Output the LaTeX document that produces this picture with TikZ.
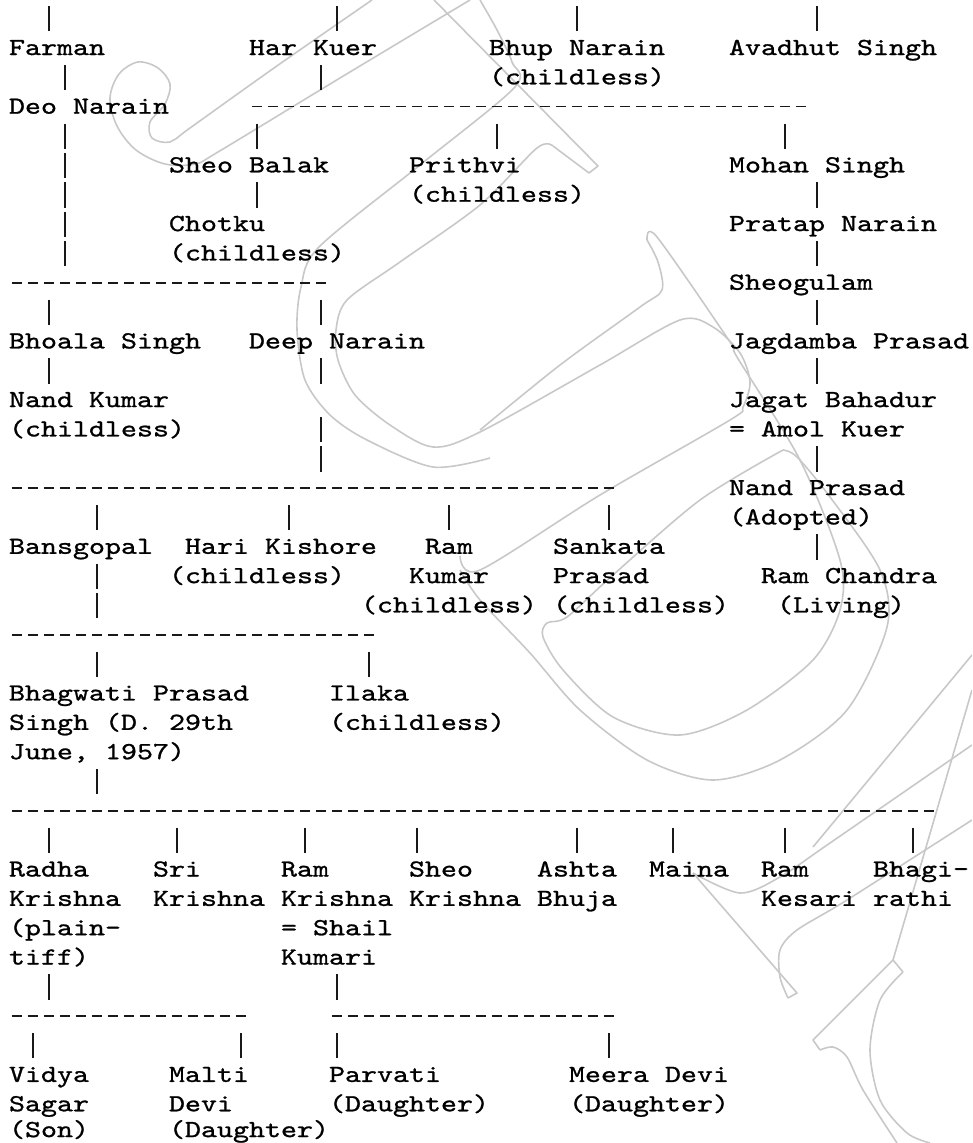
\documentclass[tikz,border=0pt]{standalone}
\usepackage{fontspec}
\usetikzlibrary{calc}
\newfontfamily\tw{lmmono10-regular.otf}[FakeStretch=1.2439,FakeBold=1]
\definecolor{wmgray}{RGB}{200,200,200}
\tikzset{
  nm/.style={anchor=base west, inner sep=0pt, outer sep=0pt, font=\tw\fontsize{24.5pt}{29.34pt}\selectfont, text=black},
  vb/.style={line width=1.4pt, black!90, dash pattern=on 25.3pt off 4.04pt},
  hd/.style={line width=1.6pt, black!90, dash pattern=on 10.5pt off 5.5pt},
  wm/.style={line width=1.6pt, wmgray, line join=round}
}
\newcommand\vbar[3]{%
  \coordinate (vt-#1-#2) at ($(#1+0.5,#2)+(0,19.5pt)$);
  \coordinate (vb-#1-#3) at ($(#1+0.5,#3)+(0,-5.8pt)$);
  \draw[vb] (vt-#1-#2) -- (vb-#1-#3);}
\newcommand\hdash[3]{%
  \coordinate (hl-#1-#2) at ($(#2,#1)+(2.75pt,7pt)$);
  \coordinate (hr-#1-#3) at ($(#3+1,#1)+(-2.75pt,7pt)$);
  \draw[hd] (hl-#1-#2) -- (hr-#1-#3);}
\begin{document}
\begin{tikzpicture}[x=16pt,y=-29.34pt]
\useasboundingbox (-9pt,25.66pt) rectangle (963pt,-1117.34pt);
% watermark
\begin{scope}[x=1pt,y=-1pt,shift={(-9pt,25.66pt)}]
\clip (0,0) rectangle (972,1143);
\draw[wm] plot[smooth,tension=0.55] coordinates {(372,0) (274,68) (190,128) (170,142) (152,138) (150,122) (165,104) (170,84) (158,68) (138,62) (119,74) (110,98) (117,126) (136,150) (165,164) (195,164) (218,152) (340,78) (470,0)};
\draw[wm] (434,0) -- (598,166) -- (589,173) -- (553,146);
\draw[wm] plot[smooth,tension=0.5] coordinates {(553,146) (537,148) (480,205) (400,262) (347,300) (336,330) (338,360) (355,395) (390,425) (433,447) (480,432) (600,365) (680,320) (713,327) (740,353) (750,382) (743,407) (730,420) (600,495) (480,570) (460,556)};
\draw[wm] plot[smooth,tension=0.5] coordinates {(480,0) (497,30) (512,62) (515,87) (420,165) (319,247) (301,287) (297,330) (305,380) (330,415) (367,440) (433,467) (490,458)};
\draw[wm] plot[smooth,tension=0.5] coordinates {(647,240) (657,237) (730,342) (737,357) (800,460) (840,560) (840,610) (813,660) (747,710) (680,735) (613,717) (563,670) (543,637) (547,623) (567,617) (613,575) (700,500) (783,450)};
\draw[wm] plot[smooth,tension=0.5] coordinates {(783,450) (797,457) (830,497) (880,570) (887,627) (847,710) (780,760) (713,780) (647,760) (580,710) (530,653) (480,600) (460,570)};
\draw[wm] plot[smooth,tension=0.5] coordinates {(647,240) (658,262) (662,290) (640,307) (560,365) (480,430)};
\draw[wm] plot[smooth,tension=0.5] coordinates {(693,873) (740,893) (780,877) (830,843) (972,745)};
\draw[wm] (693,873) -- (797,993) -- (788,998);
\draw[wm] plot[smooth,tension=0.5] coordinates {(788,998) (780,977) (780,950) (797,930) (847,900) (972,820)};
\draw[wm] (972,690) -- (893,960) -- (903,972);
\draw[wm] (893,960) -- (813,1040) -- (820,1050);
\draw[wm] plot[smooth,tension=0.5] coordinates {(820,1050) (833,1047) (847,1057) (863,1090) (897,1143)};
\draw[wm] plot[smooth,tension=0.5] coordinates {(903,972) (880,1000) (870,1050) (880,1100) (907,1133) (930,1143)};
\draw[wm] (972,655) -- (813,847);
\end{scope}
% people
\node[nm] (farman) at (0,1) {Farman};
\node[nm] (harkuer) at (15,1) {Har Kuer};
\node[nm] (bhup) at (30,1) {Bhup Narain};
\node[nm] (avadhut) at (45,1) {Avadhut Singh};
\node[nm] (bhupc) at (30,2) {(childless)};
\node[nm] (deo) at (0,3) {Deo Narain};
\node[nm] (sheobalak) at (10,5) {Sheo Balak};
\node[nm] (prithvi) at (25,5) {Prithvi};
\node[nm] (mohan) at (45,5) {Mohan Singh};
\node[nm] (prithvic) at (25,6) {(childless)};
\node[nm] (chotku) at (10,7) {Chotku};
\node[nm] (pratap) at (45,7) {Pratap Narain};
\node[nm] (chotkuc) at (10,8) {(childless)};
\node[nm] (sheogulam) at (45,9) {Sheogulam};
\node[nm] (bhoala) at (0,11) {Bhoala Singh};
\node[nm] (deep) at (15,11) {Deep Narain};
\node[nm] (jagdamba) at (45,11) {Jagdamba Prasad};
\node[nm] (nandkumar) at (0,13) {Nand Kumar};
\node[nm] (jagat) at (45,13) {Jagat Bahadur};
\node[nm] (nandkumarc) at (0,14) {(childless)};
\node[nm] (amol) at (45,14) {= Amol Kuer};
\node[nm] (nandprasad) at (45,16) {Nand Prasad};
\node[nm] (adopted) at (45,17) {(Adopted)};
\node[nm] (bansgopal) at (0,18) {Bansgopal};
\node[nm] (hari) at (11,18) {Hari Kishore};
\node[nm] (ramk1) at (26,18) {Ram};
\node[nm] (sankata) at (34,18) {Sankata};
\node[nm] (haric) at (10,19) {(childless)};
\node[nm] (ramk2) at (25,19) {Kumar};
\node[nm] (sankata2) at (34,19) {Prasad};
\node[nm] (ramchandra) at (47,19) {Ram Chandra};
\node[nm] (ramkc) at (22,20) {(childless)};
\node[nm] (sankatac) at (34,20) {(childless)};
\node[nm] (living) at (48,20) {(Living)};
\node[nm] (bhagwati1) at (0,23) {Bhagwati Prasad};
\node[nm] (ilaka) at (20,23) {Ilaka};
\node[nm] (bhagwati2) at (0,24) {Singh (D. 29th};
\node[nm] (ilakac) at (20,24) {(childless)};
\node[nm] (bhagwati3) at (0,25) {June, 1957)};
\node[nm] (radha1) at (0,29) {Radha};
\node[nm] (sri1) at (9,29) {Sri};
\node[nm] (ram1) at (17,29) {Ram};
\node[nm] (sheo1) at (25,29) {Sheo};
\node[nm] (ashta1) at (33,29) {Ashta};
\node[nm] (maina) at (40,29) {Maina};
\node[nm] (kesari1) at (47,29) {Ram};
\node[nm] (bhagi1) at (54,29) {Bhagi-};
\node[nm] (radha2) at (0,30) {Krishna};
\node[nm] (sri2) at (9,30) {Krishna};
\node[nm] (ram2) at (17,30) {Krishna};
\node[nm] (sheo2) at (25,30) {Krishna};
\node[nm] (ashta2) at (33,30) {Bhuja};
\node[nm] (kesari2) at (47,30) {Kesari};
\node[nm] (bhagi2) at (54,30) {rathi};
\node[nm] (radha3) at (0,31) {(plain-};
\node[nm] (ram3) at (17,31) {= Shail};
\node[nm] (radha4) at (0,32) {tiff)};
\node[nm] (ram4) at (17,32) {Kumari};
\node[nm] (vidya1) at (0,36) {Vidya};
\node[nm] (malti1) at (10,36) {Malti};
\node[nm] (parvati1) at (20,36) {Parvati};
\node[nm] (meera1) at (35,36) {Meera Devi};
\node[nm] (vidya2) at (0,37) {Sagar};
\node[nm] (malti2) at (10,37) {Devi};
\node[nm] (parvati2) at (20,37) {(Daughter)};
\node[nm] (meera2) at (35,37) {(Daughter)};
\node[nm, yshift=3.5pt] (vidya3) at (0,38) {(Son)};
\node[nm, yshift=3.5pt] (malti3) at (10,38) {(Daughter)};
% vertical connectors
\vbar{2}{0}{0} \vbar{20}{0}{0} \vbar{35}{0}{0} \vbar{50}{0}{0}
\vbar{3}{2}{2} \vbar{19}{2}{2}
\vbar{3}{4}{8} \vbar{15}{4}{4} \vbar{30}{4}{4} \vbar{48}{4}{4}
\vbar{15}{6}{6}
\vbar{50}{6}{6} \vbar{50}{8}{8} \vbar{50}{10}{10} \vbar{50}{12}{12} \vbar{50}{15}{15} \vbar{50}{18}{18}
\vbar{2}{10}{10} \vbar{2}{12}{12}
\vbar{19}{10}{10} \vbar{19}{12}{12} \vbar{19}{14}{15}
\vbar{5}{17}{17} \vbar{17}{17}{17} \vbar{27}{17}{17} \vbar{37}{17}{17}
\vbar{5}{19}{20}
\vbar{5}{22}{22} \vbar{22}{22}{22}
\vbar{5}{26}{26}
\vbar{2}{28}{28} \vbar{10}{28}{28} \vbar{18}{28}{28} \vbar{25}{28}{28}
\vbar{35}{28}{28} \vbar{41}{28}{28} \vbar{48}{28}{28} \vbar{56}{28}{28}
\vbar{2}{33}{33} \vbar{20}{33}{33}
\vbar{1}{35}{35} \vbar{14}{35}{35} \vbar{20}{35}{35} \vbar{37}{35}{35}
% horizontal connectors
\hdash{3}{15}{49}
\hdash{9}{0}{19}
\hdash{16}{0}{37}
\hdash{21}{0}{22}
\hdash{27}{0}{57}
\hdash{34}{0}{14}
\hdash{34}{20}{37}
\end{tikzpicture}
\end{document}
